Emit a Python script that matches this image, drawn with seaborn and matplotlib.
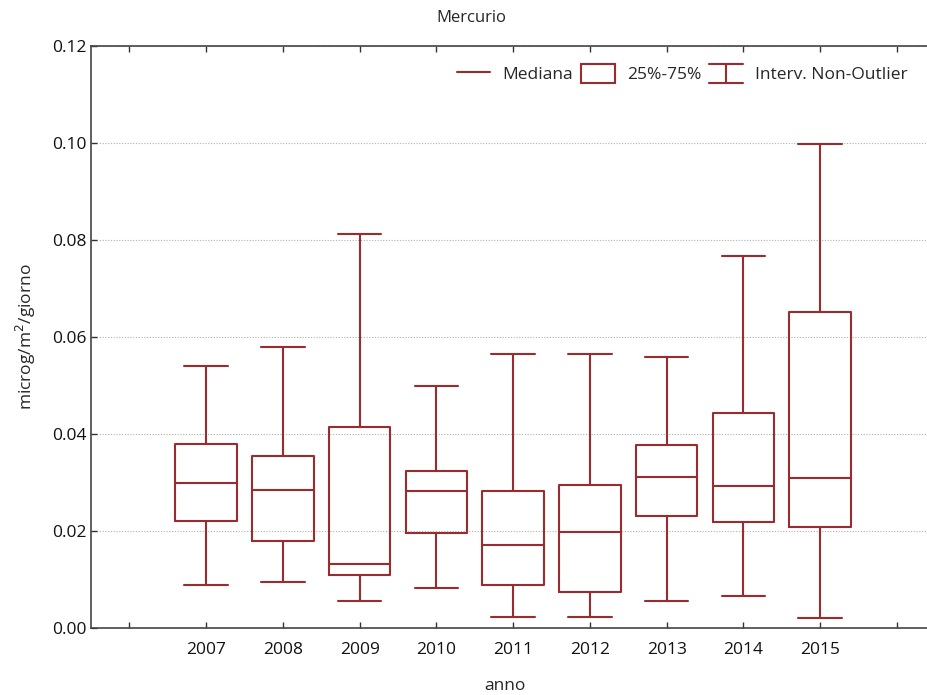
import numpy as np
import pandas as pd
import seaborn as sns
import matplotlib
matplotlib.use("Agg")
import matplotlib.pyplot as plt
from matplotlib.lines import Line2D
from matplotlib.patches import Rectangle
from matplotlib.legend_handler import HandlerBase

# dati (min, q1, mediana, q3, max) per anno
anni = ["2007", "2008", "2009", "2010", "2011", "2012", "2013", "2014", "2015"]
minimo = [0.0088, 0.0095, 0.0055, 0.0083, 0.0023, 0.0023, 0.0055, 0.0065, 0.0020]
q1 = [0.0221, 0.0180, 0.0109, 0.0195, 0.0088, 0.0075, 0.0231, 0.0218, 0.0208]
mediana = [0.0300, 0.0285, 0.0131, 0.0282, 0.0172, 0.0197, 0.0312, 0.0293, 0.0310]
q3 = [0.0380, 0.0355, 0.0415, 0.0323, 0.0283, 0.0295, 0.0377, 0.0443, 0.0651]
massimo = [0.0541, 0.0579, 0.0813, 0.0500, 0.0565, 0.0565, 0.0559, 0.0767, 0.0998]

# 5 valori per anno -> quartili esatti con interpolazione lineare
righe = []
for i, a in enumerate(anni):
    for v in (minimo[i], q1[i], mediana[i], q3[i], massimo[i]):
        righe.append({"anno": a, "valore": v})
df = pd.DataFrame(righe)

col = "#9a2b2e"

sns.set_style("white")
plt.rcParams['font.family'] = ['Open Sans', 'DejaVu Sans']

fig = plt.figure(figsize=(9.27, 6.95), dpi=100)
ax = fig.add_axes([91 / 927, 67 / 695, 836 / 927, 582 / 695])

sns.boxplot(data=df, x="anno", y="valore", order=anni, whis=(0, 100),
            width=0.8, fill=False, color=col, linecolor=col, linewidth=1.5,
            showfliers=False, capwidths=0.57, ax=ax)

ax.set_xlim(-1.5, -1.5 + 836 / 76.75)
ax.set_ylim(0, 0.12)
ax.set_yticks(np.arange(0, 0.1201, 0.02))
ax.set_yticklabels(["%.2f" % v for v in np.arange(0, 0.1201, 0.02)])
ax.set_xticks(range(-1, 10))
ax.set_xticklabels([""] + anni + [""])
ax.yaxis.grid(True, linestyle=(0, (1, 1.5)), color="#b0b0b0", linewidth=0.8)
ax.set_axisbelow(True)
ax.tick_params(direction="in", length=4, width=1, colors="#333333",
               labelcolor="#111111", labelsize=12.5, top=True, left=True, bottom=True)
ax.tick_params(axis="x", pad=10)
for s in ["left", "bottom", "top"]:
    ax.spines[s].set_color("#444444")
    ax.spines[s].set_linewidth(1.2)
ax.spines["right"].set_visible(False)

ax.set_xlabel("")
ax.set_ylabel("microg/m$^2$/giorno", fontsize=12.5, labelpad=10)
fig.text(505 / 927, 1 - 686 / 695, "anno", ha="center", va="center", fontsize=12.5)
fig.text(471 / 927, 1 - 18 / 695, "Mercurio", ha="center", va="center", fontsize=12)


# simbolo "I" per intervallo non-outlier
class HandlerI(HandlerBase):
    def create_artists(self, legend, orig, xd, yd, w, h, fs, trans):
        x0, x1 = -xd, -xd + w
        xm = x0 + w / 2
        y0, y1 = -yd, -yd + h
        l1 = Line2D([x0, x1], [y1, y1], color=col, lw=1.5, transform=trans)
        l2 = Line2D([x0, x1], [y0, y0], color=col, lw=1.5, transform=trans)
        l3 = Line2D([xm, xm], [y0, y1], color=col, lw=1.5, transform=trans)
        return [l1, l2, l3]


h_med = Line2D([0], [0], color=col, lw=1.5)
h_box = Rectangle((0, 0), 1, 1, facecolor="none", edgecolor=col, lw=1.5)
h_whi = Line2D([0], [0], color=col)
leg = ax.legend([h_med, h_box, h_whi], ["Mediana", "25%-75%", "Interv. Non-Outlier"],
                handler_map={h_whi: HandlerI()}, ncol=3, frameon=False,
                loc="upper right", bbox_to_anchor=(920 / 927, 1 - 52 / 695),
                bbox_transform=fig.transFigure,
                fontsize=12.5, handlelength=1.95, handleheight=1.3,
                handletextpad=0.7, columnspacing=0.45, borderpad=0.2)

fig.savefig("out.png", dpi=100)
